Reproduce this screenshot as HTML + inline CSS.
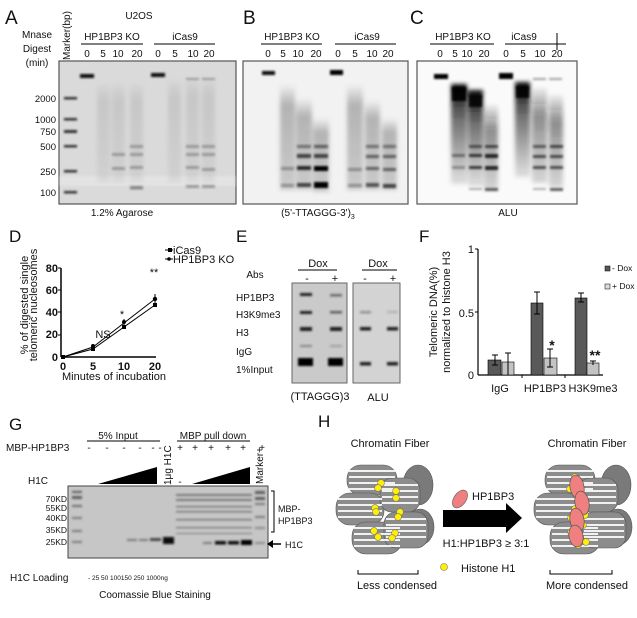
<!DOCTYPE html>
<html><head><meta charset="utf-8"><style>
html,body{margin:0;padding:0;background:#fff}
svg{display:block}
text{font-family:"Liberation Sans",Arial,sans-serif;fill:#111}
</style></head><body>
<svg width="637" height="618" viewBox="0 0 637 618" xmlns="http://www.w3.org/2000/svg">
<defs>
<filter id="bl" x="-20%" y="-50%" width="140%" height="200%"><feGaussianBlur stdDeviation="1.1"/></filter>
<filter id="bl2" x="-30%" y="-10%" width="160%" height="120%"><feGaussianBlur stdDeviation="2.2"/></filter>
<linearGradient id="smA" x1="0" y1="0" x2="0" y2="1"><stop offset="0" stop-color="#999" stop-opacity="0"/><stop offset="0.2" stop-color="#aaa" stop-opacity="0.4"/><stop offset="1" stop-color="#aaa" stop-opacity="0.2"/></linearGradient>
<linearGradient id="smB" x1="0" y1="0" x2="0" y2="1"><stop offset="0" stop-color="#555" stop-opacity="0"/><stop offset="0.2" stop-color="#555" stop-opacity="0.4"/><stop offset="1" stop-color="#555" stop-opacity="0.25"/></linearGradient>
<linearGradient id="smC" x1="0" y1="0" x2="0" y2="1"><stop offset="0" stop-color="#000" stop-opacity="0.95"/><stop offset="0.35" stop-color="#222" stop-opacity="0.65"/><stop offset="1" stop-color="#444" stop-opacity="0.15"/></linearGradient>
<linearGradient id="smC2" x1="0" y1="0" x2="0" y2="1"><stop offset="0" stop-color="#000" stop-opacity="0.05"/><stop offset="0.3" stop-color="#222" stop-opacity="0.5"/><stop offset="1" stop-color="#444" stop-opacity="0.2"/></linearGradient>
</defs>

<!-- ===== Panel A ===== -->
<text x="5" y="24" font-size="19">A</text>
<text x="139" y="19" font-size="10" text-anchor="middle">U2OS</text>
<text x="37" y="38" font-size="10" text-anchor="middle">Mnase</text>
<text x="37" y="52" font-size="10" text-anchor="middle">Digest</text>
<text x="37" y="66" font-size="10" text-anchor="middle">(min)</text>
<text transform="translate(70,60) rotate(-90)" font-size="10">Marker(bp)</text>
<text x="112" y="40" font-size="10" text-anchor="middle">HP1BP3 KO</text>
<line x1="81" y1="44" x2="143" y2="44" stroke="#000"/>
<text x="185" y="40" font-size="10" text-anchor="middle">iCas9</text>
<line x1="154" y1="44" x2="215" y2="44" stroke="#000"/>
<g font-size="10" text-anchor="middle">
<text x="87" y="57">0</text><text x="103" y="57">5</text><text x="118" y="57">10</text><text x="137" y="57">20</text>
<text x="158" y="57">0</text><text x="175" y="57">5</text><text x="193" y="57">10</text><text x="209" y="57">20</text>
</g>
<g font-size="9.5" text-anchor="end">
<text x="56" y="102">2000</text><text x="56" y="123">1000</text><text x="56" y="135">750</text><text x="56" y="150">500</text><text x="56" y="175">250</text><text x="56" y="196">100</text>
</g>
<rect x="59" y="61" width="177" height="143" fill="#dadada" stroke="#555" stroke-width="1.2"/>
<rect x="60" y="176" width="175" height="10" fill="#e3e3e3" filter="url(#bl)"/>
<g fill="#333" filter="url(#bl)">
<rect x="64" y="97" width="13" height="2.5"/><rect x="64" y="118" width="13" height="2.5"/><rect x="64" y="130" width="13" height="3"/><rect x="64" y="145" width="13" height="2.5"/><rect x="64" y="170" width="13" height="2.5"/><rect x="64" y="191" width="13" height="2.5"/>
<rect x="80" y="74" width="14" height="4" fill="#111"/><rect x="151" y="73" width="14" height="4" fill="#111"/>
</g>
<g filter="url(#bl2)">
<rect x="97" y="82" width="13" height="100" fill="url(#smA)"/>
<rect x="112" y="82" width="13" height="100" fill="url(#smA)"/>
<rect x="130" y="82" width="13" height="100" fill="url(#smA)"/>
<rect x="168" y="78" width="13" height="104" fill="url(#smA)"/>
<rect x="186" y="76" width="13" height="106" fill="url(#smA)"/>
<rect x="202" y="76" width="13" height="106" fill="url(#smA)"/>
</g>
<g fill="#9a9a9a" filter="url(#bl)">
<rect x="112" y="153" width="13" height="3"/><rect x="112" y="167" width="13" height="3"/>
<rect x="130" y="145" width="13" height="3"/><rect x="130" y="153" width="13" height="3"/><rect x="130" y="166" width="13" height="3"/><rect x="130" y="186" width="13" height="3.5" fill="#888"/>
<rect x="186" y="145" width="13" height="3"/><rect x="186" y="153" width="13" height="3"/><rect x="186" y="166" width="13" height="3"/><rect x="186" y="185" width="13" height="3"/>
<rect x="202" y="145" width="13" height="3"/><rect x="202" y="153" width="13" height="3"/><rect x="202" y="168" width="13" height="3"/><rect x="202" y="185" width="13" height="3"/>
<rect x="186" y="78" width="13" height="2"/><rect x="202" y="78" width="13" height="2"/>
</g>
<text x="122" y="216" font-size="10" text-anchor="middle">1.2% Agarose</text>

<!-- ===== Panel B ===== -->
<text x="243" y="24" font-size="19">B</text>
<text x="292" y="40" font-size="10" text-anchor="middle">HP1BP3 KO</text>
<line x1="261" y1="44" x2="322" y2="44" stroke="#000"/>
<text x="367" y="40" font-size="10" text-anchor="middle">iCas9</text>
<line x1="335" y1="44" x2="396" y2="44" stroke="#000"/>
<g font-size="10" text-anchor="middle">
<text x="268" y="57">0</text><text x="283" y="57">5</text><text x="298" y="57">10</text><text x="316" y="57">20</text>
<text x="338" y="57">0</text><text x="355" y="57">5</text><text x="372" y="57">10</text><text x="388" y="57">20</text>
</g>
<rect x="243" y="61" width="165" height="143" fill="#f2f2f2" stroke="#555" stroke-width="1.2"/>
<g filter="url(#bl)">
<rect x="262" y="71" width="13" height="4" fill="#111"/><rect x="330" y="70" width="13" height="5" fill="#000"/>
</g>
<g filter="url(#bl2)">
<rect x="280" y="84" width="15" height="106" fill="url(#smB)"/>
<rect x="296" y="98" width="16" height="92" fill="url(#smB)"/>
<rect x="313" y="118" width="16" height="74" fill="url(#smB)"/>
<rect x="347" y="84" width="16" height="106" fill="url(#smB)"/>
<rect x="365" y="100" width="15" height="90" fill="url(#smB)"/>
<rect x="382" y="118" width="15" height="72" fill="url(#smB)"/>
</g>
<g fill="#222" filter="url(#bl)">
<rect x="281" y="167" width="13" height="3" opacity="0.35"/><rect x="281" y="184" width="13" height="3" opacity="0.35"/>
<rect x="297" y="145" width="14" height="3" opacity="0.5"/><rect x="297" y="154" width="14" height="4" opacity="0.8"/><rect x="297" y="166" width="14" height="4" opacity="0.95"/><rect x="297" y="183" width="14" height="4" opacity="0.8"/>
<rect x="314" y="145" width="14" height="3" opacity="0.6"/><rect x="314" y="154" width="14" height="4" opacity="0.8"/><rect x="314" y="166" width="14" height="5" fill="#000"/><rect x="314" y="182" width="14" height="6" fill="#000"/>
<rect x="348" y="168" width="14" height="3" opacity="0.35"/><rect x="348" y="184" width="14" height="3" opacity="0.35"/>
<rect x="366" y="145" width="13" height="3" opacity="0.5"/><rect x="366" y="155" width="13" height="3" opacity="0.6"/><rect x="366" y="167" width="13" height="3" opacity="0.6"/><rect x="366" y="183" width="13" height="4" opacity="0.7"/>
<rect x="383" y="145" width="13" height="3" opacity="0.5"/><rect x="383" y="155" width="13" height="3" opacity="0.6"/><rect x="383" y="168" width="13" height="3" opacity="0.6"/><rect x="383" y="184" width="13" height="4" opacity="0.8"/>
</g>
<text x="318" y="216" font-size="10" text-anchor="middle">(5'-TTAGGG-3')<tspan font-size="7" dy="3">3</tspan></text>

<!-- ===== Panel C ===== -->
<text x="410" y="24" font-size="19">C</text>
<text x="463" y="40" font-size="10" text-anchor="middle">HP1BP3 KO</text>
<line x1="430" y1="44" x2="494" y2="44" stroke="#000"/>
<text x="524" y="40" font-size="10" text-anchor="middle">iCas9</text>
<line x1="505" y1="44" x2="566" y2="44" stroke="#000"/>
<line x1="557" y1="33" x2="557" y2="50" stroke="#000"/>
<g font-size="10" text-anchor="middle">
<text x="440" y="57">0</text><text x="455" y="57">5</text><text x="467" y="57">10</text><text x="484" y="57">20</text>
<text x="506" y="57">0</text><text x="523" y="57">5</text><text x="540" y="57">10</text><text x="557" y="57">20</text>
</g>
<rect x="417" y="61" width="160" height="143" fill="#fafafa" stroke="#555" stroke-width="1.2"/>
<g filter="url(#bl)">
<rect x="434" y="74" width="14" height="5" fill="#000"/><rect x="499" y="73" width="14" height="6" fill="#000"/>
<rect x="533" y="78" width="13" height="2" fill="#000" opacity="0.35"/><rect x="549" y="78" width="13" height="2" fill="#000" opacity="0.35"/>
</g>
<g filter="url(#bl2)">
<rect x="451" y="84" width="16" height="100" fill="url(#smC)"/>
<rect x="468" y="90" width="15" height="96" fill="url(#smC)"/>
<rect x="484" y="105" width="14" height="85" fill="url(#smC2)"/>
<rect x="515" y="82" width="15" height="95" fill="url(#smC)"/>
<rect x="532" y="88" width="15" height="95" fill="url(#smC2)"/>
<rect x="549" y="95" width="14" height="92" fill="url(#smC2)"/>
</g>
<g fill="#000" filter="url(#bl)">
<rect x="452" y="87" width="14" height="14" opacity="0.95"/><rect x="469" y="95" width="13" height="12" opacity="0.85"/><rect x="516" y="86" width="13" height="12" opacity="0.9"/>
<rect x="485" y="145" width="13" height="3" opacity="0.6"/><rect x="485" y="154" width="13" height="4" opacity="0.8"/><rect x="485" y="166" width="13" height="4" opacity="0.8"/><rect x="485" y="188" width="13" height="3" opacity="0.6"/>
<rect x="469" y="145" width="13" height="3" opacity="0.5"/><rect x="469" y="154" width="13" height="3" opacity="0.7"/><rect x="469" y="166" width="13" height="3" opacity="0.7"/><rect x="469" y="188" width="13" height="2" opacity="0.3"/>
<rect x="452" y="154" width="13" height="3" opacity="0.4"/><rect x="452" y="166" width="13" height="3" opacity="0.3"/>
<rect x="533" y="145" width="13" height="3" opacity="0.5"/><rect x="533" y="155" width="13" height="3" opacity="0.6"/><rect x="533" y="166" width="13" height="3" opacity="0.6"/><rect x="533" y="188" width="13" height="2" opacity="0.3"/>
<rect x="550" y="145" width="13" height="3" opacity="0.6"/><rect x="550" y="155" width="13" height="3" opacity="0.6"/><rect x="550" y="166" width="13" height="3" opacity="0.6"/><rect x="550" y="188" width="13" height="3" opacity="0.6"/>
</g>
<text x="508" y="216" font-size="10" text-anchor="middle">ALU</text>

<!-- ===== Panel D ===== -->
<text x="9" y="242" font-size="17">D</text>
<text transform="translate(28,305) rotate(-90)" font-size="11" text-anchor="middle">% of digested single</text>
<text transform="translate(37,305) rotate(-90)" font-size="11" text-anchor="middle">telomeric nucleosomes</text>
<line x1="61" y1="268" x2="61" y2="357" stroke="#000" stroke-width="1.5"/>
<line x1="61" y1="357" x2="156" y2="357" stroke="#000" stroke-width="1.5"/>
<g font-size="11" font-weight="bold" text-anchor="end">
<text x="58" y="272">80</text><text x="58" y="294">60</text><text x="58" y="316">40</text><text x="58" y="338">20</text><text x="58" y="361">0</text>
</g>
<g stroke="#000"><line x1="58" y1="268" x2="61" y2="268"/><line x1="58" y1="290" x2="61" y2="290"/><line x1="58" y1="312" x2="61" y2="312"/><line x1="58" y1="335" x2="61" y2="335"/></g>
<g font-size="11" font-weight="bold" text-anchor="middle">
<text x="63" y="370">0</text><text x="93" y="370">5</text><text x="124" y="370">10</text><text x="155" y="370">20</text>
</g>
<text x="114" y="380" font-size="11" text-anchor="middle">Minutes of incubation</text>
<polyline points="63,357 93,347 124,323 155,299" fill="none" stroke="#000" stroke-width="1"/>
<polyline points="63,357 93,349 124,327 155,305" fill="none" stroke="#000" stroke-width="1"/>
<g fill="#000">
<rect x="61" y="355" width="4" height="4"/><rect x="91" y="347" width="4" height="4"/><rect x="122" y="325" width="4" height="4"/><rect x="153" y="303" width="4" height="4"/>
<circle cx="93" cy="346" r="2"/><circle cx="124" cy="322" r="2"/><circle cx="155" cy="299" r="2.2"/>
</g>
<g stroke="#000"><line x1="155" y1="294" x2="155" y2="303"/><line x1="124" y1="319" x2="124" y2="328"/></g>
<text x="103" y="338" font-size="11" text-anchor="middle" fill="#333">NS</text>
<text x="122" y="318" font-size="11" text-anchor="middle">*</text>
<text x="154" y="276" font-size="11" text-anchor="middle">**</text>
<rect x="168" y="248" width="4" height="4" fill="#000"/><line x1="165" y1="250" x2="173" y2="250" stroke="#000"/>
<text x="173" y="254" font-size="11">iCas9</text>
<circle cx="169" cy="259" r="1.8" fill="#000"/><line x1="165" y1="259" x2="173" y2="259" stroke="#000"/>
<text x="173" y="263" font-size="11">HP1BP3 KO</text>

<!-- ===== Panel E ===== -->
<text x="236" y="242" font-size="17">E</text>
<text x="318" y="267" font-size="11" text-anchor="middle">Dox</text>
<line x1="298" y1="270" x2="337" y2="270" stroke="#000"/>
<text x="378" y="267" font-size="11" text-anchor="middle">Dox</text>
<line x1="362" y1="270" x2="397" y2="270" stroke="#000"/>
<text x="255" y="278" font-size="10" text-anchor="middle">Abs</text>
<g font-size="11" text-anchor="middle"><text x="307" y="282">-</text><text x="335" y="282">+</text><text x="365" y="282">-</text><text x="393" y="282">+</text></g>
<g font-size="10">
<text x="236" y="301">HP1BP3</text><text x="236" y="318">H3K9me3</text><text x="236" y="336">H3</text><text x="236" y="355">IgG</text><text x="236" y="373">1%Input</text>
</g>
<rect x="292" y="283" width="55" height="100" fill="#cacaca" stroke="#666"/>
<rect x="353" y="283" width="47" height="100" fill="#d3d3d3" stroke="#666"/>
<g fill="#222" filter="url(#bl)">
<rect x="300" y="293" width="12" height="3"/><rect x="330" y="294" width="12" height="2.5" opacity="0.55"/>
<rect x="300" y="311" width="12" height="3"/><rect x="330" y="311" width="12" height="2.5" opacity="0.6"/>
<rect x="300" y="327" width="12" height="4"/><rect x="330" y="327" width="12" height="4"/>
<rect x="300" y="345" width="12" height="2" opacity="0.4"/><rect x="330" y="345" width="12" height="2" opacity="0.25"/>
<rect x="298" y="358" width="15" height="8" fill="#000"/><rect x="328" y="358" width="15" height="8" fill="#000"/>
<rect x="360" y="311" width="11" height="2.5" opacity="0.35"/><rect x="387" y="311" width="11" height="2" opacity="0.2"/>
<rect x="360" y="327" width="11" height="3.5"/><rect x="387" y="327" width="11" height="3.5"/>
<rect x="360" y="362" width="11" height="3.5"/><rect x="387" y="362" width="11" height="3.5"/>
</g>
<text x="320" y="400" font-size="11" text-anchor="middle">(TTAGGG)3</text>
<text x="378" y="401" font-size="11" text-anchor="middle">ALU</text>

<!-- ===== Panel F ===== -->
<text x="419" y="242" font-size="17">F</text>
<text transform="translate(437,312) rotate(-90)" font-size="11" text-anchor="middle">Telomeric DNA(%)</text>
<text transform="translate(450,312) rotate(-90)" font-size="11" text-anchor="middle">normalized to histone H3</text>
<line x1="478" y1="249" x2="478" y2="375" stroke="#000" stroke-width="1.2"/>
<line x1="478" y1="375" x2="603" y2="375" stroke="#000" stroke-width="1.2"/>
<g stroke="#000"><line x1="475" y1="249" x2="478" y2="249"/><line x1="475" y1="312" x2="478" y2="312"/><line x1="522" y1="375" x2="522" y2="378"/><line x1="565" y1="375" x2="565" y2="378"/></g>
<g font-size="11" text-anchor="end"><text x="474" y="253">1</text><text x="474" y="317">0.5</text><text x="474" y="379">0</text></g>
<g stroke="#000" stroke-width="0.6">
<rect x="488" y="360" width="13" height="15" fill="#595959"/>
<rect x="502" y="362" width="12" height="13" fill="#c3c3c3"/>
<rect x="531" y="303" width="12" height="72" fill="#595959"/>
<rect x="544" y="358" width="13" height="17" fill="#c3c3c3"/>
<rect x="575" y="298" width="12" height="77" fill="#595959"/>
<rect x="587" y="363" width="12" height="12" fill="#c3c3c3"/>
</g>
<g stroke="#000" stroke-width="1">
<line x1="495" y1="355" x2="495" y2="365"/><line x1="492" y1="355" x2="498" y2="355"/><line x1="492" y1="365" x2="498" y2="365"/>
<line x1="508" y1="353" x2="508" y2="375"/><line x1="505" y1="353" x2="511" y2="353"/>
<line x1="537" y1="292" x2="537" y2="314"/><line x1="534" y1="292" x2="540" y2="292"/><line x1="534" y1="314" x2="540" y2="314"/>
<line x1="550" y1="349" x2="550" y2="367"/><line x1="547" y1="349" x2="553" y2="349"/><line x1="547" y1="367" x2="553" y2="367"/>
<line x1="581" y1="293" x2="581" y2="302"/><line x1="578" y1="293" x2="584" y2="293"/><line x1="578" y1="302" x2="584" y2="302"/>
<line x1="593" y1="361" x2="593" y2="365"/><line x1="590" y1="361" x2="596" y2="361"/>
</g>
<text x="552" y="350" font-size="14" font-weight="bold" text-anchor="middle">*</text>
<text x="595" y="360" font-size="14" font-weight="bold" text-anchor="middle">**</text>
<g font-size="11" text-anchor="middle"><text x="500" y="392">IgG</text><text x="545" y="392">HP1BP3</text><text x="593" y="392">H3K9me3</text></g>
<rect x="605" y="266" width="5" height="5" fill="#595959" stroke="#000" stroke-width="0.5"/>
<text x="612" y="271" font-size="8.5">- Dox</text>
<rect x="605" y="284" width="5" height="5" fill="#ddd" stroke="#000" stroke-width="0.5"/>
<text x="612" y="289" font-size="8.5">+ Dox</text>

<!-- ===== Panel G ===== -->
<text x="9" y="430" font-size="17">G</text>
<text x="118" y="439" font-size="10" text-anchor="middle">5%  Input</text>
<line x1="87" y1="441" x2="160" y2="441" stroke="#000"/>
<text x="213" y="439" font-size="10" text-anchor="middle">MBP pull down</text>
<line x1="177" y1="441" x2="250" y2="441" stroke="#000"/>
<text x="6" y="451" font-size="10">MBP-HP1BP3</text>
<g font-size="10" text-anchor="middle">
<text x="89" y="451">-</text><text x="107" y="451">-</text><text x="124" y="451">-</text><text x="140" y="451">-</text><text x="153" y="451">-</text><text x="160" y="451">-</text>
<text x="180" y="451">+</text><text x="195" y="451">+</text><text x="211" y="451">+</text><text x="228" y="451">+</text><text x="243" y="451">+</text><text x="262" y="451">+</text>
</g>
<text transform="translate(171,485) rotate(-90)" font-size="10">1μg H1C</text>
<text transform="translate(263,484) rotate(-90)" font-size="10">Marker+</text>
<text x="28" y="484" font-size="10">H1C</text>
<polygon points="98,484 157,467 157,484" fill="#000"/>
<polygon points="192,484 250,467 250,484" fill="#000"/>
<text x="180" y="485" font-size="10" text-anchor="middle">-</text>
<rect x="68" y="486" width="200" height="72" fill="#c6c6c6" stroke="#444"/>
<g font-size="8.5" text-anchor="end">
<text x="67" y="502">70KD</text><text x="67" y="511">55KD</text><text x="67" y="521">40KD</text><text x="67" y="533">35KD</text><text x="67" y="545">25KD</text>
</g>
<g fill="#333" filter="url(#bl)">
<rect x="72" y="491" width="10" height="2" opacity="0.7"/><rect x="72" y="496" width="10" height="3" opacity="0.7"/><rect x="72" y="505" width="10" height="2" opacity="0.6"/><rect x="72" y="517" width="10" height="2" opacity="0.5"/><rect x="72" y="530" width="10" height="2" opacity="0.5"/><rect x="72" y="541" width="10" height="2" opacity="0.5"/>
<rect x="127" y="539" width="10" height="2" opacity="0.5"/><rect x="139" y="539" width="9" height="2" opacity="0.5"/><rect x="150" y="538" width="11" height="3" opacity="0.85"/><rect x="163" y="537" width="11" height="7" fill="#111"/>
<rect x="203" y="542" width="9" height="2" opacity="0.5"/><rect x="215" y="541" width="11" height="3.5" fill="#111"/><rect x="228" y="541" width="11" height="3.5" fill="#111"/><rect x="241" y="540" width="11" height="5" fill="#000"/>
<rect x="255" y="491" width="10" height="3" opacity="0.7"/><rect x="255" y="497" width="10" height="3" opacity="0.7"/><rect x="255" y="503" width="10" height="2" opacity="0.5"/><rect x="255" y="516" width="10" height="2" opacity="0.5"/><rect x="255" y="527" width="10" height="2" opacity="0.4"/><rect x="255" y="542" width="10" height="2" opacity="0.4"/>
</g>
<g fill="#444" opacity="0.6" filter="url(#bl)">
<rect x="176" y="494" width="76" height="2"/><rect x="176" y="499" width="76" height="2"/><rect x="176" y="506" width="76" height="1.5"/><rect x="176" y="511" width="76" height="1.5"/><rect x="176" y="519" width="76" height="1.5"/><rect x="176" y="527" width="76" height="1.3"/><rect x="176" y="533" width="76" height="1"/>
</g>
<path d="M271,491 h3 v41 h-3" fill="none" stroke="#000"/>
<text x="278" y="512" font-size="9">MBP-</text>
<text x="278" y="524" font-size="9">HP1BP3</text>
<line x1="270" y1="544" x2="281" y2="544" stroke="#000" stroke-width="1.5"/>
<polygon points="267,544 273,540 273,548" fill="#000"/>
<text x="285" y="548" font-size="9">H1C</text>
<text x="10" y="581" font-size="10">H1C Loading</text>
<text x="88" y="580" font-size="6.5">-  25  50  100150   250  1000ng</text>
<text x="155" y="598" font-size="10" text-anchor="middle">Coomassie Blue Staining</text>

<!-- ===== Panel H ===== -->
<text x="318" y="427" font-size="17">H</text>
<text x="390" y="447" font-size="11" text-anchor="middle">Chromatin Fiber</text>
<text x="587" y="447" font-size="11" text-anchor="middle">Chromatin Fiber</text>
<g id="fib">
<g fill="#7a7a7a" stroke="#555" stroke-width="0.6">
<ellipse cx="418" cy="485" rx="15" ry="20"/>
<ellipse cx="420" cy="527" rx="14" ry="18"/>
<rect x="347" y="465" width="50" height="30" rx="14" fill="#8c8c8c"/>
<rect x="336" y="493" width="48" height="32" rx="14" fill="#8c8c8c"/>
<rect x="352" y="522" width="50" height="32" rx="14" fill="#8c8c8c"/>
<rect x="380" y="478" width="40" height="34" rx="12" fill="#8c8c8c"/>
<rect x="384" y="512" width="44" height="36" rx="12" fill="#8c8c8c"/>
</g>
<g stroke="#fff" stroke-width="1.7" fill="none">
<path d="M349,471 h46 M349,477 h46 M349,483 h46 M349,489 h46"/>
<path d="M338,499 h44 M338,505 h44 M338,511 h44 M338,517 h44"/>
<path d="M354,528 h46 M354,534 h46 M354,540 h46 M354,546 h46"/>
<path d="M382,485 h36 M382,491 h36 M382,497 h36 M382,503 h36"/>
<path d="M386,519 h40 M386,525 h40 M386,531 h40 M386,537 h40"/>
</g>
</g>
<use href="#fib" transform="translate(198,0)"/>
<g fill="#ffef00" stroke="#777" stroke-width="0.6">
<circle cx="381" cy="483" r="3.4"/><circle cx="378" cy="488" r="3.4"/><circle cx="396" cy="491" r="3.4"/><circle cx="396" cy="498" r="3.4"/><circle cx="375" cy="508" r="3.4"/><circle cx="376" cy="512" r="3.4"/><circle cx="400" cy="512" r="3.4"/><circle cx="398" cy="517" r="3.4"/><circle cx="374" cy="531" r="3.4"/><circle cx="378" cy="537" r="3.4"/><circle cx="395" cy="533" r="3.4"/><circle cx="392" cy="538" r="3.4"/>
<circle cx="575" cy="477" r="3.4"/><circle cx="570" cy="489" r="3.4"/><circle cx="575" cy="509" r="3.4"/><circle cx="585" cy="515" r="3.4"/><circle cx="571" cy="518" r="3.4"/><circle cx="583" cy="525" r="3.4"/><circle cx="571" cy="532" r="3.4"/><circle cx="586" cy="542" r="3.4"/><circle cx="578" cy="545" r="3.4"/>
</g>
<g fill="#f08080" stroke="#555" stroke-width="0.7">
<ellipse cx="577" cy="487" rx="7" ry="12" transform="rotate(-10 577 487)"/><ellipse cx="582" cy="503" rx="7" ry="12" transform="rotate(-10 582 503)"/><ellipse cx="577" cy="520" rx="7" ry="12" transform="rotate(-10 577 520)"/><ellipse cx="576" cy="536" rx="7" ry="11" transform="rotate(-10 576 536)"/>
</g>
<polygon points="443,510 506,510 506,503 522,518 506,533 506,527 443,527" fill="#000"/>
<ellipse cx="460" cy="499" rx="6" ry="10" transform="rotate(35 460 499)" fill="#f08080" stroke="#555" stroke-width="0.6"/>
<text x="472" y="500" font-size="11">HP1BP3</text>
<text x="486" y="547" font-size="11" text-anchor="middle">H1:HP1BP3 ≥ 3:1</text>
<circle cx="444" cy="567" r="3.5" fill="#ffef00" stroke="#777" stroke-width="0.6"/>
<text x="461" y="572" font-size="11">Histone H1</text>
<path d="M358,570 v4 h60 v-4" fill="none" stroke="#000"/>
<text x="397" y="589" font-size="11" text-anchor="middle">Less condensed</text>
<path d="M550,570 v4 h62 v-4" fill="none" stroke="#000"/>
<text x="587" y="589" font-size="11" text-anchor="middle">More condensed</text>
</svg>
</body></html>
